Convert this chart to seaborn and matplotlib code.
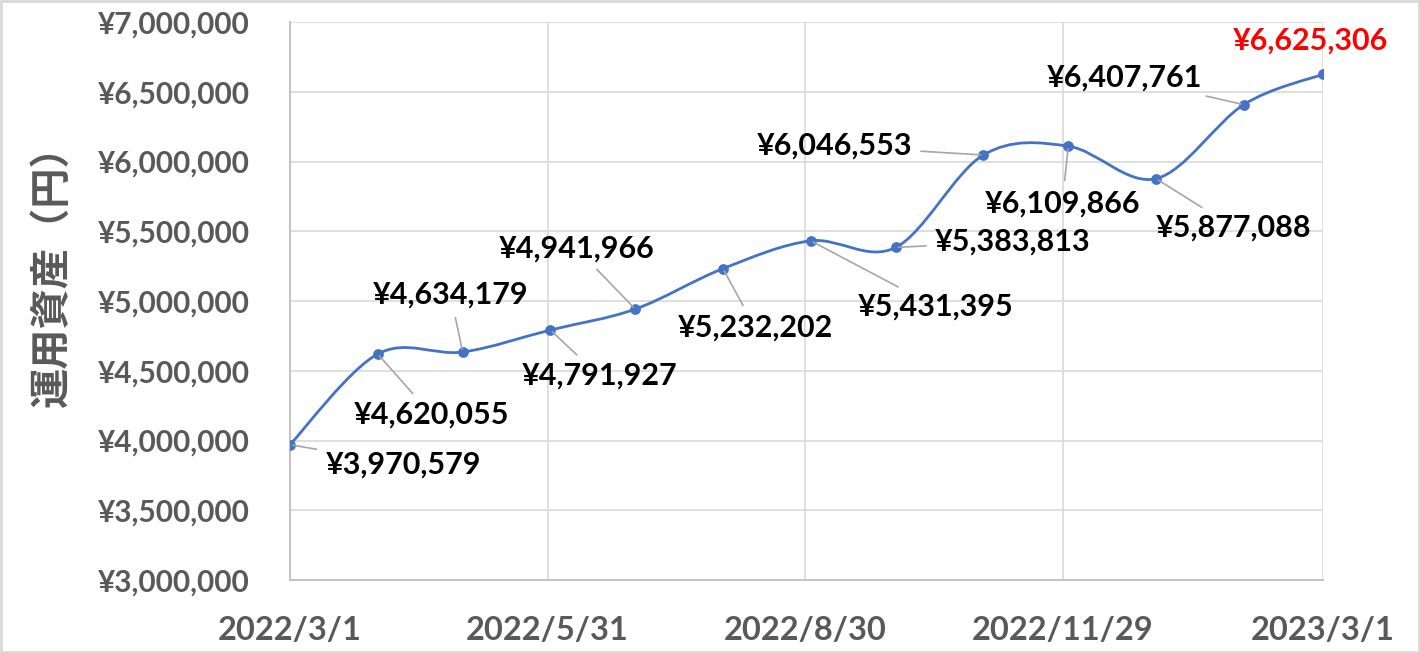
import matplotlib
matplotlib.use("Agg")
import matplotlib.pyplot as plt
import matplotlib.dates as mdates
from matplotlib.path import Path
from matplotlib.patches import PathPatch, Rectangle
import seaborn as sns
import pandas as pd
import numpy as np

# ---- data ----
dates = ["2022-03-01", "2022-04-01", "2022-05-01", "2022-06-01", "2022-07-01",
         "2022-08-01", "2022-09-01", "2022-10-01", "2022-11-01", "2022-12-01",
         "2023-01-01", "2023-02-01", "2023-03-01"]
values = [3970579, 4620055, 4634179, 4791927, 4941966, 5232202, 5431395,
          5383813, 6046553, 6109866, 5877088, 6407761, 6625306]
tick_dates = ["2022-03-01", "2022-05-31", "2022-08-30", "2022-11-29", "2023-03-01"]
tick_labels = ["2022/3/1", "2022/5/31", "2022/8/30", "2022/11/29", "2023/3/1"]
y_ticks = [3000000, 3500000, 4000000, 4500000, 5000000, 5500000, 6000000, 6500000, 7000000]
y_label = "運用資産（円）"
# label offsets in pixels (dx, dy) from each point
label_offsets = [(113, -20), (54, -61), (-12, 57), (49, -46), (-59, 61), (32, -59),
                 (125, -66), (117, 6), (-149, 9), (-6, -57), (78, -49), (-119, 27), (-13, 34)]

df = pd.DataFrame({"date": pd.to_datetime(dates), "value": values})

sns.set_theme(style="white")
plt.rcParams["font.family"] = ["Lato", "Noto Sans CJK JP", "DejaVu Sans"]
plt.rcParams["font.weight"] = "bold"

fig = plt.figure(figsize=(14.2, 6.53), dpi=100)
ax = fig.add_axes([290 / 1420, 1 - 580 / 653, (1323 - 290) / 1420, (580 - 22) / 653])

line_color = "#4472C4"

# smooth curve (Catmull-Rom style Bezier through the data points)
xs = mdates.date2num(df["date"].dt.to_pydatetime())
ys = np.array(values, dtype=float)
pts = np.column_stack([xs, ys])
verts = [tuple(pts[0])]
codes = [Path.MOVETO]
n = len(pts)
for i in range(n - 1):
    p0 = pts[i - 1] if i > 0 else pts[i]
    p1 = pts[i]
    p2 = pts[i + 1]
    p3 = pts[i + 2] if i + 2 < n else pts[i + 1]
    c1 = p1 + (p2 - p0) / 6.0
    c2 = p2 - (p3 - p1) / 6.0
    verts += [tuple(c1), tuple(c2), tuple(p2)]
    codes += [Path.CURVE4] * 3

sns.scatterplot(data=df, x="date", y="value", ax=ax, color=line_color, s=60,
                edgecolor=line_color, linewidth=0, zorder=4)
ax.add_patch(PathPatch(Path(verts, codes), fill=False, edgecolor=line_color,
                       linewidth=2.0, zorder=3, capstyle="round"))

ax.set_xlim(pd.Timestamp(dates[0]), pd.Timestamp(dates[-1]))
ax.set_ylim(y_ticks[0], y_ticks[-1])
ax.set_yticks(y_ticks)
ax.set_yticklabels([f"¥{v:,}" for v in y_ticks])
ax.set_xticks(pd.to_datetime(tick_dates))
ax.set_xticklabels(tick_labels)

ax.grid(True, color="#d9d9d9", linewidth=1.2)
ax.set_axisbelow(True)
for s in ["top", "right"]:
    ax.spines[s].set_visible(False)
for s in ["left", "bottom"]:
    ax.spines[s].set_color("#bfbfbf")
    ax.spines[s].set_linewidth(1.3)
ax.tick_params(axis="both", length=0)
for lab in ax.get_yticklabels():
    lab.set_fontsize(21.5)
    lab.set_fontweight("bold")
    lab.set_color("#595959")
for lab in ax.get_xticklabels():
    lab.set_fontsize(23.5)
    lab.set_fontweight("bold")
    lab.set_color("#595959")
ax.tick_params(axis="y", pad=29)
ax.tick_params(axis="x", pad=26)
ax.set_xlabel("")
ax.set_ylabel("")
fig.text(52 / 1420, 1 - 266 / 653, y_label, rotation=90, ha="center", va="center",
         fontsize=29, fontweight="bold", color="#595959",
         family=["Noto Sans CJK JP", "DejaVu Sans"])

for i, (d, v) in enumerate(zip(df["date"], values)):
    dx, dy = label_offsets[i]
    last = i == len(values) - 1
    ax.annotate(f"¥{v:,}", xy=(d, v), xytext=(dx, dy), textcoords="offset pixels",
                ha="center", va="center", fontsize=22, fontweight="bold",
                color="#FF0000" if last else "black", zorder=5,
                arrowprops=None if last else dict(arrowstyle="-", color="#a6a6a6",
                                                  linewidth=1.2, shrinkA=4, shrinkB=2))

fig.patches.append(Rectangle((0.001, 0.002), 0.998, 0.996, transform=fig.transFigure,
                             fill=False, edgecolor="#d9d9d9", linewidth=2))

fig.savefig("out.png", dpi=100)
